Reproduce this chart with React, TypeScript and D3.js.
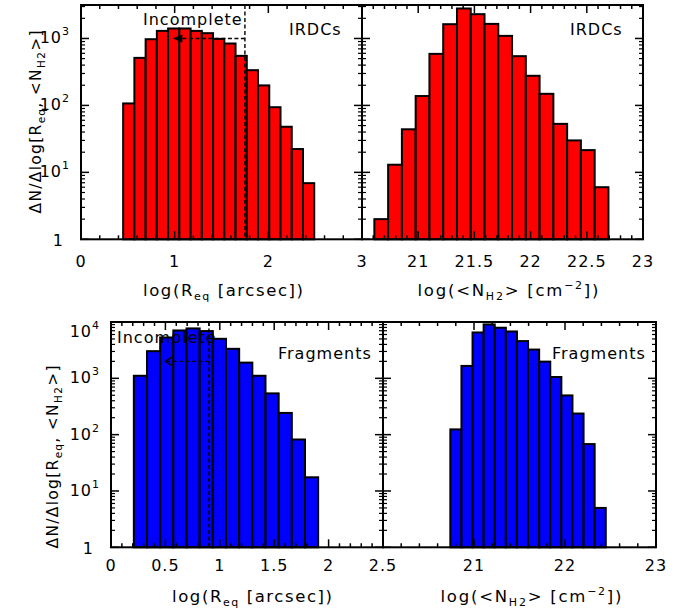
import React from 'react';
import * as d3 from 'd3';

const W = 679;
const H = 610;
const FONT = '"DejaVu Sans", sans-serif';

// ---------- data ----------
// IRDCs, log(R_eq) histogram (bin left edges, bin width, dN/dlog)
const irdcReqEdges = [0.45, 0.57, 0.69, 0.81, 0.93, 1.05, 1.17, 1.29, 1.41, 1.53, 1.65, 1.77, 1.89, 2.01, 2.13, 2.25, 2.37];
const irdcReqWidth = 0.12;
const irdcReqCounts = [107, 513, 975, 1298, 1410, 1410, 1298, 1200, 986, 841, 550, 336, 199, 94, 48, 22.3, 6.9];

// IRDCs, log(<N_H2>) histogram
const irdcNEdges = [20.61, 20.7325, 20.855, 20.9775, 21.1, 21.2225, 21.345, 21.4675, 21.59, 21.7125, 21.835, 21.9575, 22.08, 22.2025, 22.325, 22.4475, 22.57];
const irdcNWidth = 0.1225;
const irdcNCounts = [2, 13, 44, 138, 589, 1634, 2805, 2306, 1651, 1093, 544, 277, 149, 53, 30, 21.5, 6];

// Fragments, log(R_eq) histogram
const fragReqEdges = [0.21, 0.331, 0.452, 0.573, 0.694, 0.815, 0.936, 1.057, 1.178, 1.299, 1.42, 1.541, 1.662, 1.783];
const fragReqWidth = 0.121;
const fragReqCounts = [1110, 3035, 5310, 7080, 7690, 6900, 5030, 3340, 1900, 1110, 540, 243, 82, 17.5];

// Fragments, log(<N_H2>) histogram
const fragNEdges = [20.74, 20.862, 20.984, 21.106, 21.228, 21.35, 21.472, 21.594, 21.716, 21.838, 21.96, 22.082, 22.204, 22.326];
const fragNWidth = 0.122;
const fragNCounts = [124, 1660, 6520, 9060, 7910, 6790, 4580, 3240, 1980, 1055, 497, 237, 68, 5];

// tick labels
const tlXTicks = [0, 1, 2, 3];
const trXTicks = [21, 21.5, 22, 22.5, 23];
const blXTicks = [0, 0.5, 1, 1.5, 2, 2.5];
const brXTicks = [21, 22, 23];
const topYTicks = [1, 10, 100, 1000];
const botYTicks = [1, 10, 100, 1000, 10000];

// incompleteness annotations
const irdcIncomplete = { x: 1.75, arrowTo: 1.0, y: 1000 };
const fragIncomplete = { x: 0.9, arrowTo: 0.5, y: 2000 };

// ---------- helpers ----------
type Lin = d3.ScaleLinear<number, number>;
type Log = d3.ScaleLogarithmic<number, number>;

function minorTicks(domain: [number, number], step: number, majors: number[]) {
  const out: number[] = [];
  const n0 = Math.ceil(domain[0] / step - 1e-6);
  const n1 = Math.floor(domain[1] / step + 1e-6);
  for (let i = n0; i <= n1; i++) {
    const v = +(i * step).toFixed(6);
    if (!majors.some((m) => Math.abs(m - v) < 1e-6)) out.push(v);
  }
  return out;
}

function logMinor(max: number) {
  const out: number[] = [];
  for (let d = 1; d < max; d *= 10) {
    for (let k = 2; k <= 9; k++) if (d * k <= max) out.push(d * k);
  }
  return out;
}

function Superscript({ n }: { n: number }) {
  const p = Math.round(Math.log10(n));
  if (p === 0) return <>1</>;
  return (
    <>
      10<tspan dy={-8} fontSize={11}>{p}</tspan>
    </>
  );
}

interface PanelProps {
  xs: Lin;
  ys: Log;
  edges: number[];
  width: number;
  counts: number[];
  fill: string;
  xMajors: number[];
  xMajorAll: number[];
  xMinorStep: number;
  labelY: number;
  yMajors: number[];
  showYLabels: boolean;
}

function Panel(p: PanelProps) {
  const { xs, ys } = p;
  const [x0, x1] = xs.range();
  const [y1, y0] = ys.range();
  const xd = xs.domain() as [number, number];
  const yMax = ys.domain()[1];
  const xMinor = minorTicks(xd, p.xMinorStep, p.xMajorAll);
  const yMinor = logMinor(yMax);
  const MJ = 8;
  const MN = 4;
  const yMajIn = p.yMajors.filter((v) => v <= yMax * 1.0001);
  return (
    <g>
      {p.edges.map((e, i) => {
        const xa = xs(e);
        const xb = xs(e + p.width);
        const yt = ys(p.counts[i]);
        return (
          <rect
            key={i}
            x={xa}
            y={yt}
            width={xb - xa}
            height={ys(1) - yt}
            fill={p.fill}
            stroke="#000"
            strokeWidth={2}
          />
        );
      })}
      {/* x ticks */}
      {p.xMajorAll.map((v, i) => (
        <g key={'xm' + i}>
          <line x1={xs(v)} x2={xs(v)} y1={y1} y2={y1 - MJ} stroke="#000" strokeWidth={1.5} />
          <line x1={xs(v)} x2={xs(v)} y1={y0} y2={y0 + MJ} stroke="#000" strokeWidth={1.5} />
        </g>
      ))}
      {xMinor.map((v, i) => (
        <g key={'xn' + i}>
          <line x1={xs(v)} x2={xs(v)} y1={y1} y2={y1 - MN} stroke="#000" strokeWidth={1.5} />
          <line x1={xs(v)} x2={xs(v)} y1={y0} y2={y0 + MN} stroke="#000" strokeWidth={1.5} />
        </g>
      ))}
      {/* y ticks */}
      {yMajIn.map((v, i) => (
        <g key={'ym' + i}>
          <line x1={x0} x2={x0 + MJ} y1={ys(v)} y2={ys(v)} stroke="#000" strokeWidth={1.5} />
          <line x1={x1} x2={x1 - MJ} y1={ys(v)} y2={ys(v)} stroke="#000" strokeWidth={1.5} />
        </g>
      ))}
      {yMinor.map((v, i) => (
        <g key={'yn' + i}>
          <line x1={x0} x2={x0 + MN} y1={ys(v)} y2={ys(v)} stroke="#000" strokeWidth={1.2} />
          <line x1={x1} x2={x1 - MN} y1={ys(v)} y2={ys(v)} stroke="#000" strokeWidth={1.2} />
        </g>
      ))}
      <rect x={x0} y={y0} width={x1 - x0} height={y1 - y0} fill="none" stroke="#000" strokeWidth={2} />
      {/* x labels */}
      {p.xMajors.map((v, i) => (
        <text
          key={'xl' + i}
          x={xs(v)}
          y={p.labelY}
          textAnchor="middle"
          fontFamily={FONT}
          fontSize={16}
          letterSpacing={1}
        >
          {String(v)}
        </text>
      ))}
      {p.showYLabels &&
        yMajIn.map((v, i) => {
          const base = Math.max(ys(v) + 5, y0 + 15);
          return (
            <text
              key={'yl' + i}
              x={v === 1 ? x0 - 17 : x0 - 11}
              y={v === 1 ? ys(v) + 7 : base}
              textAnchor="end"
              fontFamily={FONT}
              fontSize={16}
              letterSpacing={1}
            >
              <Superscript n={v} />
            </text>
          );
        })}
    </g>
  );
}

function YTitle({ x, y }: { x: number; y: number }) {
  return (
    <text
      transform={`translate(${x},${y}) rotate(-90)`}
      textAnchor="middle"
      fontFamily={FONT}
      fontSize={15.5}
      textLength={183}
      lengthAdjust="spacing"
    >
      ΔN/Δlog[R<tspan dy={4} fontSize={10.5}>eq</tspan>
      <tspan dy={-4}>, &lt;N</tspan>
      <tspan dy={4} fontSize={10.5}>H2</tspan>
      <tspan dy={-4}>&gt;]</tspan>
    </text>
  );
}

function XTitleR({ x, y }: { x: number; y: number }) {
  return (
    <text
      x={x}
      y={y}
      textAnchor="middle"
      fontFamily={FONT}
      fontSize={16.5}
      textLength={160}
      lengthAdjust="spacing"
    >
      log(R<tspan dy={4} fontSize={11}>eq</tspan>
      <tspan dy={-4}> [arcsec])</tspan>
    </text>
  );
}

function XTitleN({ x, y }: { x: number; y: number }) {
  return (
    <text
      x={x}
      y={y}
      textAnchor="middle"
      fontFamily={FONT}
      fontSize={16.5}
      textLength={181}
      lengthAdjust="spacing"
    >
      log(&lt;N<tspan dy={4} fontSize={11}>H2</tspan>
      <tspan dy={-4}>&gt; [cm</tspan>
      <tspan dy={-7} fontSize={11}>−2</tspan>
      <tspan dy={7}>])</tspan>
    </text>
  );
}

function Incomplete({
  xs,
  ys,
  spec,
  filledHead,
}: {
  xs: Lin;
  ys: Log;
  spec: { x: number; arrowTo: number; y: number };
  filledHead: boolean;
}) {
  const [y1, y0] = ys.range();
  const xv = xs(spec.x);
  const xa = xs(spec.arrowTo);
  const ya = ys(spec.y);
  return (
    <g stroke="#000" strokeWidth={1.4} fill="none">
      <line x1={xv} x2={xv} y1={y0} y2={y1} strokeDasharray="4,2.5" />
      <line x1={xv} x2={xa + 2} y1={ya} y2={ya} strokeDasharray="4,2.5" />
      {filledHead ? (
        <path d={`M${xa},${ya} L${xa + 7},${ya - 3} L${xa + 7},${ya + 3} Z`} fill="#000" />
      ) : (
        <path d={`M${xa + 6},${ya - 4} L${xa},${ya} L${xa + 6},${ya + 4}`} />
      )}
    </g>
  );
}

export default function App() {
  const topYs = d3.scaleLog().domain([1, Math.pow(10, 3.5)]).range([239.3, 5]);
  const botYs = d3.scaleLog().domain([1, 10000]).range([547.3, 322]);
  const tlXs = d3.scaleLinear().domain([0, 3]).range([81, 362]);
  const trXs = d3.scaleLinear().domain([20.5, 23]).range([362, 643]);
  const blXs = d3.scaleLinear().domain([0, 2.5]).range([111, 383]);
  const brXs = d3.scaleLinear().domain([20, 23]).range([383, 656]);

  const txt = { fontFamily: FONT, fontSize: 16, letterSpacing: 1 } as const;

  return (
    <svg
      width={W}
      height={H}
      viewBox={`0 0 ${W} ${H}`}
      style={{ position: 'absolute', left: 0, top: 0, background: '#fff' }}
    >
      <rect x={0} y={0} width={W} height={H} fill="#fff" />
      <Panel
        xs={tlXs}
        ys={topYs}
        edges={irdcReqEdges}
        width={irdcReqWidth}
        counts={irdcReqCounts}
        fill="#ff0000"
        xMajors={tlXTicks}
        xMajorAll={tlXTicks}
        xMinorStep={0.2}
        labelY={267}
        yMajors={topYTicks}
        showYLabels={true}
      />
      <Panel
        xs={trXs}
        ys={topYs}
        edges={irdcNEdges}
        width={irdcNWidth}
        counts={irdcNCounts}
        fill="#ff0000"
        xMajors={trXTicks}
        xMajorAll={[20.5, ...trXTicks]}
        xMinorStep={0.1}
        labelY={267}
        yMajors={topYTicks}
        showYLabels={false}
      />
      <Panel
        xs={blXs}
        ys={botYs}
        edges={fragReqEdges}
        width={fragReqWidth}
        counts={fragReqCounts}
        fill="#0000ff"
        xMajors={blXTicks}
        xMajorAll={blXTicks}
        xMinorStep={0.1}
        labelY={571}
        yMajors={botYTicks}
        showYLabels={true}
      />
      <Panel
        xs={brXs}
        ys={botYs}
        edges={fragNEdges}
        width={fragNWidth}
        counts={fragNCounts}
        fill="#0000ff"
        xMajors={brXTicks}
        xMajorAll={[20, ...brXTicks]}
        xMinorStep={0.2}
        labelY={571}
        yMajors={botYTicks}
        showYLabels={false}
      />

      <Incomplete xs={tlXs} ys={topYs} spec={irdcIncomplete} filledHead={true} />
      <Incomplete xs={blXs} ys={botYs} spec={fragIncomplete} filledHead={false} />

      <text x={143} y={25} {...txt}>Incomplete</text>
      <text x={289} y={35} {...txt}>IRDCs</text>
      <text x={570} y={35} {...txt}>IRDCs</text>
      <text x={117} y={343} {...txt}>Incomplete</text>
      <text x={278} y={359} {...txt}>Fragments</text>
      <text x={552} y={359} {...txt}>Fragments</text>

      <YTitle x={41} y={122} />
      <YTitle x={58} y={457} />
      <XTitleR x={223} y={296} />
      <XTitleN x={508} y={296} />
      <XTitleR x={252} y={602} />
      <XTitleN x={531} y={602} />
    </svg>
  );
}
